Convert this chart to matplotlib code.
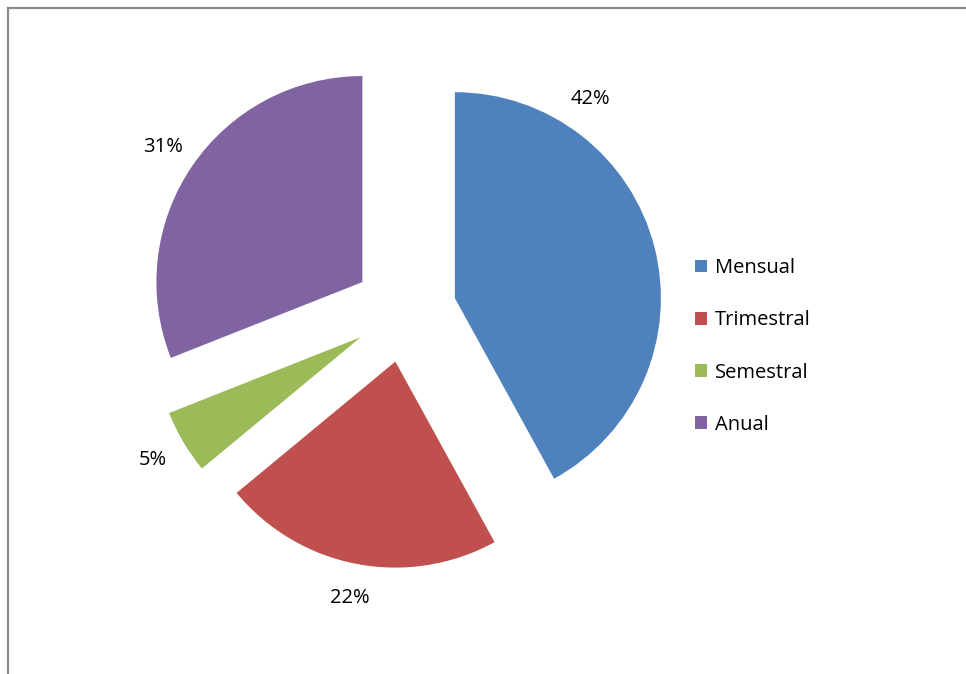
import numpy as np
import matplotlib
matplotlib.use("Agg")
import matplotlib.pyplot as plt
from matplotlib.lines import Line2D

categories = ["Mensual", "Trimestral", "Semestral", "Anual"]
values = [42, 22, 5, 31]
colors = ["#4F81BD", "#C0504D", "#9BBB59", "#8064A2"]

W, H = 966, 674
CX, CY, R = 405, 311, 206  # pie center / radius in pixels

plt.rcParams["font.family"] = ["Open Sans", "DejaVu Sans"]

fig = plt.figure(figsize=(W / 100, H / 100), dpi=100)
ax = fig.add_axes([0, 0, 1, 1])

wedges, texts, autotexts = ax.pie(
    values, colors=colors, startangle=90, counterclock=False,
    explode=[0.25] * len(values), radius=1, autopct="%1.0f%%",
    pctdistance=1.17, wedgeprops=dict(linewidth=0),
    textprops=dict(fontsize=14.5, color="#000000"))

# Excel "best fit" nudges the big slice's label up and round
ang = np.deg2rad(48.8)
autotexts[0].set_position((1.37 * np.cos(ang), 1.37 * np.sin(ang)))

ax.set_xlim(-CX / R, (W - CX) / R)
ax.set_ylim(-(H - CY) / R, CY / R)
ax.set_aspect("equal")
ax.axis("off")

leg = fig.legend(wedges, categories, loc="upper left",
                 bbox_to_anchor=(685 / W, 1 - 248 / H), frameon=False,
                 fontsize=14.5, handlelength=0.6, handleheight=0.6,
                 handletextpad=0.4, labelspacing=1.6, borderpad=0)

# chart-area border (top and left visible)
fig.add_artist(Line2D([7.5 / W, 1], [1 - 7.5 / H, 1 - 7.5 / H],
                      transform=fig.transFigure, color="#8C8C8C", lw=1.6))
fig.add_artist(Line2D([7.5 / W, 7.5 / W], [0, 1 - 7.5 / H],
                      transform=fig.transFigure, color="#8C8C8C", lw=1.6))

fig.savefig("out.png", dpi=100, facecolor="white")
